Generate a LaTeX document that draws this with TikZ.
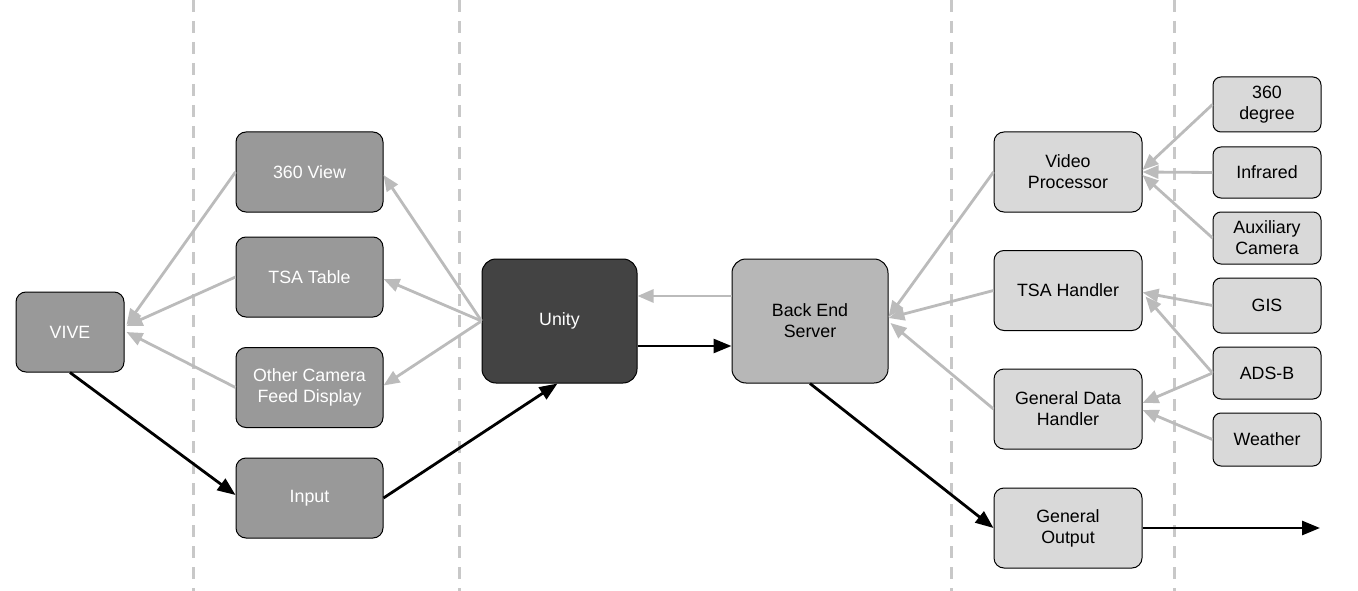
\documentclass[tikz,border=0pt]{standalone}
\usepackage{fontspec}
\setmainfont{Liberation Sans}
\usetikzlibrary{arrows.meta}
\definecolor{midgray}{HTML}{999999}
\definecolor{darkbox}{HTML}{434343}
\definecolor{servergray}{HTML}{B7B7B7}
\definecolor{lightbox}{HTML}{D9D9D9}
\definecolor{arrowgray}{HTML}{BBBBBB}
\definecolor{dashgray}{HTML}{C8C8C8}
\tikzset{
  box/.style={draw=black, line width=1pt, rounded corners=10pt, inner sep=0pt, align=center,
    font=\fontsize{17.8}{21}\selectfont},
  leftbox/.style={box, fill=midgray, text=white, minimum width=147pt, minimum height=80pt},
  rightbox/.style={box, fill=lightbox, text=black, minimum width=148pt, minimum height=80pt},
  srcbox/.style={box, fill=lightbox, text=black, minimum width=108pt, rounded corners=8pt},
  garrow/.style={draw=arrowgray, line width=2.8pt, -{Triangle[length=16pt,width=13pt]}},
  barrow/.style={draw=black, line width=2.8pt, -{Triangle[length=18pt,width=14pt]}},
  divider/.style={draw=dashgray, line width=3pt, dash pattern=on 12pt off 9pt}
}
\begin{document}
\begin{tikzpicture}[x=1pt,y=-1pt]
\useasboundingbox (0,0) rectangle (1358,591);
% dividers
\foreach \xx in {193,459,951,1174} \draw[divider] (\xx,0) -- (\xx,591);
% left
\node[leftbox, minimum width=108pt] (vive) at (70,332) {VIVE};
\node[leftbox] (view) at (309.5,172) {360 View};
\node[leftbox] (tsat) at (309.5,277) {TSA Table};
\node[leftbox] (other) at (309.5,387.5) {Other Camera\\Feed Display};
\node[leftbox] (input) at (309.5,498) {Input};
% middle
\node[box, fill=darkbox, text=white, minimum width=155pt, minimum height=124pt, rounded corners=14pt] (unity) at (559.5,321) {Unity};
\node[box, fill=servergray, text=black, minimum width=156pt, minimum height=124pt, rounded corners=14pt] (server) at (810,321) {Back End\\Server};
% right
\node[rightbox] (vp) at (1068,172) {Video\\Processor};
\node[rightbox] (tsah) at (1068,290.5) {TSA Handler};
\node[rightbox] (gdh) at (1068,409) {General Data\\Handler};
\node[rightbox] (gout) at (1068,528) {General\\Output};
% sources
\node[srcbox, minimum height=55pt] (deg) at (1267,104.5) {360\\degree};
\node[srcbox, minimum height=51pt] (ir) at (1267,172.5) {Infrared};
\node[srcbox, minimum height=52pt] (aux) at (1267,238) {Auxiliary\\Camera};
\node[srcbox, minimum height=55pt] (gis) at (1267,305.5) {GIS};
\node[srcbox, minimum height=52pt] (adsb) at (1267,373) {ADS-B};
\node[srcbox, minimum height=53pt] (wx) at (1267,439.5) {Weather};
\coordinate (outend) at (1320,528);
% gray arrows
\draw[garrow] (view.west) -- ([xshift=2pt,yshift=7pt]vive.east);
\draw[garrow] (tsat.west) -- ([xshift=2pt,yshift=6pt]vive.east);
\draw[garrow] (other.west) -- ([xshift=2pt]vive.east);
\draw[garrow] (unity.west) -- ([yshift=-3pt]view.east);
\draw[garrow] (unity.west) -- ([yshift=-2pt]tsat.east);
\draw[garrow] (unity.west) -- ([yshift=2pt]other.east);
\draw[garrow] ([yshift=25pt]server.west) -- ([yshift=25pt]unity.east);
\draw[garrow] (vp.west) -- ([yshift=4pt]server.east);
\draw[garrow] (tsah.west) -- ([yshift=3pt]server.east);
\draw[garrow] (gdh.west) -- ([xshift=2pt,yshift=-2pt]server.east);
\draw[garrow] (deg.west) -- ([yshift=2pt]vp.east);
\draw[garrow] (ir.west) -- (vp.east);
\draw[garrow] (aux.west) -- ([yshift=-3pt]vp.east);
\draw[garrow] (gis.west) -- ([yshift=-2pt]tsah.east);
\draw[garrow] (adsb.west) -- ([xshift=3pt,yshift=-6pt]tsah.east);
\draw[garrow] (adsb.west) -- ([yshift=6pt]gdh.east);
\draw[garrow] (wx.west) -- ([yshift=-1pt]gdh.east);
% black arrows
\draw[barrow] (vive.south) -- ([yshift=3pt]input.west);
\draw[barrow] (input.east) -- ([xshift=-2pt]unity.south);
\draw[barrow] ([yshift=-25pt]unity.east) -- ([yshift=-25pt]server.west);
\draw[barrow] (server.south) -- (gout.west);
\draw[barrow] (gout.east) -- (outend);
\end{tikzpicture}
\end{document}
